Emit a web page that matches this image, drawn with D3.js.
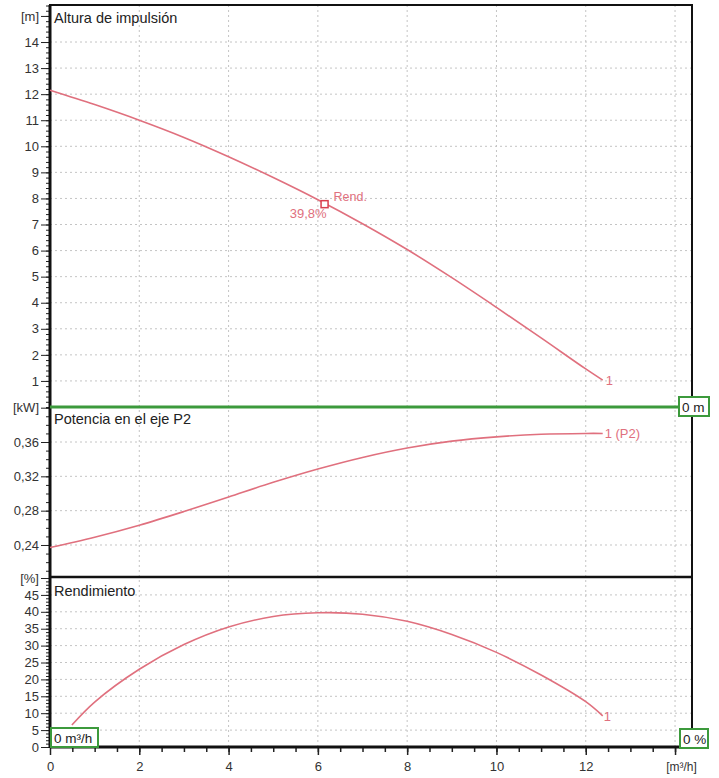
<!doctype html>
<html>
<head>
    <meta charset="UTF-8">
    <title>Curvas de bomba</title>
    <script src="https://cdn.jsdelivr.net/npm/d3@7"></script>
    <style>
        body { margin: 0; background: #fff; }
        text { font-family: "Liberation Sans", Arial, sans-serif; }
    </style>
</head>
<body>

    <div id="chart"></div>

    <script>

        var width = 719,
            height = 778;

        // curve data
        var flowH = [0, 1, 2, 3, 4, 5, 6, 7, 8, 9, 10, 11, 12, 12.38];
        var head = [12.15, 11.6, 11.0, 10.34, 9.6, 8.8, 7.95, 7.03, 6.04, 4.96, 3.82, 2.65, 1.46, 1.03];

        var flowP = [0, 1, 2, 3, 4, 5, 6, 7, 8, 9, 10, 11, 12, 12.38];
        var power = [0.237, 0.249, 0.263, 0.279, 0.296, 0.313, 0.3285, 0.342, 0.353, 0.361, 0.366, 0.369, 0.370, 0.370];

        var flowE = [0.49, 1, 2, 3, 4, 5, 6, 7, 8, 9, 10, 11, 12, 12.38];
        var eff = [6.5, 13.3, 23, 30.3, 35.5, 38.6, 39.7, 39.3, 37.2, 33.3, 28, 21.3, 13.4, 9.2];

        var rendPoint = { q: 6.15, h: 7.78, label: "39,8%" };

        var xTicks = [0, 2, 4, 6, 8, 10, 12];
        var hTicks = [1, 2, 3, 4, 5, 6, 7, 8, 9, 10, 11, 12, 13, 14];
        var pTicks = [0.24, 0.28, 0.32, 0.36];
        var eTicks = [0, 5, 10, 15, 20, 25, 30, 35, 40, 45];

        var curveColor = "#e0707e",
            green = "#3c9a3c",
            gridColor = "#c4c4c4";

        var left = 50, right = 692;

        var x = d3.scaleLinear().domain([0, 14.38]).range([left, right]);
        var yH = d3.scaleLinear().domain([0, 15.42]).range([407, 5]);
        var yP = d3.scaleLinear().domain([0.2027, 0.4008]).range([577, 407]);
        var yE = d3.scaleLinear().domain([0, 50.3]).range([747, 577]);

        var svg = d3.select("#chart")
            .append("svg")
            .attr("width", width)
            .attr("height", height);

        // vertical grid, all panels
        svg.selectAll(".vgrid")
            .data([2, 4, 6, 8, 10, 12, 14])
            .enter()
            .append("line")
            .attr("x1", function (d) { return x(d); })
            .attr("x2", function (d) { return x(d); })
            .attr("y1", 5)
            .attr("y2", 747)
            .style("stroke", gridColor)
            .style("stroke-dasharray", "2,3");

        function hGrid(scale, values) {
            svg.append("g").selectAll("line")
                .data(values)
                .enter()
                .append("line")
                .attr("x1", left)
                .attr("x2", right)
                .attr("y1", function (d) { return scale(d); })
                .attr("y2", function (d) { return scale(d); })
                .style("stroke", gridColor)
                .style("stroke-dasharray", "2,3");
        }
        hGrid(yH, hTicks);
        hGrid(yP, pTicks);
        hGrid(yE, eTicks.slice(1));

        // left axes with minor ticks
        function leftAxis(scale, major, unitVal, unit, minorStep, fmt) {
            var lo = scale.domain()[0], hi = scale.domain()[1];
            var minor = d3.range(Math.ceil(lo / minorStep) * minorStep, hi, minorStep);

            svg.append("g")
                .attr("transform", "translate(" + left + ",0)")
                .call(d3.axisLeft(scale).tickValues(minor).tickSize(4).tickFormat(""))
                .call(function (g) { g.select(".domain").remove(); })
                .selectAll("line").style("stroke", "#222");

            var g = svg.append("g")
                .attr("transform", "translate(" + left + ",0)")
                .call(d3.axisLeft(scale).tickValues(major.concat([unitVal])).tickSize(9).tickPadding(2)
                    .tickFormat(function (d) { return d === unitVal ? unit : fmt(d); }));
            g.select(".domain").remove();
            g.selectAll("line").style("stroke", "#222");
            g.selectAll("text")
                .style("font-size", "13px")
                .style("font-family", "'Liberation Sans', Arial, sans-serif")
                .attr("fill", "#333");
        }

        var comma = function (d) { return d3.format(".2f")(d).replace(".", ","); };
        leftAxis(yH, hTicks, 15, "[m]", 0.2, d3.format("d"));
        leftAxis(yP, pTicks, 0.40, "[kW]", 0.01, comma);
        leftAxis(yE, eTicks, 50, "[%]", 1, d3.format("d"));

        // bottom axis
        var minorX = d3.range(0.5, 14.3, 0.5);
        svg.append("g")
            .attr("transform", "translate(0,747)")
            .call(d3.axisBottom(x).tickValues(minorX).tickSize(5).tickFormat(""))
            .call(function (g) { g.select(".domain").remove(); })
            .selectAll("line").style("stroke", "#222").style("stroke-width", 1.5);

        var xa = svg.append("g")
            .attr("transform", "translate(0,747)")
            .call(d3.axisBottom(x).tickValues(xTicks.concat([14])).tickSize(8).tickPadding(7)
                .tickFormat(function (d) { return d === 14 ? "[m\u00b3/h]" : d; }));
        xa.select(".domain").remove();
        xa.selectAll("line").style("stroke", "#222").style("stroke-width", 1.5);
        xa.selectAll("text")
            .style("font-size", "13px")
            .style("font-family", "'Liberation Sans', Arial, sans-serif")
            .attr("fill", "#333");
        xa.selectAll(".tick").filter(function (d) { return d === 14; })
            .select("text").attr("x", 6).style("font-size", "12px");

        // frame
        svg.append("rect")
            .attr("x", left)
            .attr("y", 5)
            .attr("width", right - left)
            .attr("height", 742)
            .style("fill", "none")
            .style("stroke", "#111")
            .style("stroke-width", 2);

        svg.append("line")
            .attr("x1", left).attr("x2", left)
            .attr("y1", 5).attr("y2", 748)
            .style("stroke", "#111").style("stroke-width", 3);

        svg.append("line")
            .attr("x1", left).attr("x2", right)
            .attr("y1", 747).attr("y2", 747)
            .style("stroke", "#111").style("stroke-width", 3);

        svg.append("line")
            .attr("x1", left).attr("x2", right)
            .attr("y1", yE(50.3)).attr("y2", yE(50.3))
            .style("stroke", "#111").style("stroke-width", 2.5);

        // green zero line of the head panel
        svg.append("line")
            .attr("x1", left).attr("x2", right)
            .attr("y1", yH(0)).attr("y2", yH(0))
            .style("stroke", green).style("stroke-width", 3);

        // curves
        function curveLine(yScale) {
            return d3.line()
                .x(function (d) { return x(d[0]); })
                .y(function (d) { return yScale(d[1]); })
                .curve(d3.curveCatmullRom.alpha(0.5));
        }

        svg.append("path")
            .datum(d3.zip(flowH, head))
            .attr("d", curveLine(yH))
            .style("fill", "none").style("stroke", curveColor).style("stroke-width", 1.6);
        svg.append("path")
            .datum(d3.zip(flowP, power))
            .attr("d", curveLine(yP))
            .style("fill", "none").style("stroke", curveColor).style("stroke-width", 1.6);
        svg.append("path")
            .datum(d3.zip(flowE, eff))
            .attr("d", curveLine(yE))
            .style("fill", "none").style("stroke", curveColor).style("stroke-width", 1.6);

        // end labels
        var last = head.length - 1;
        svg.append("text")
            .text("1")
            .attr("x", x(flowH[last]) + 3)
            .attr("y", yH(head[last]) + 5)
            .attr("fill", curveColor)
            .style("font-size", "13px");
        svg.append("text")
            .text("1 (P2)")
            .attr("x", x(flowP[last]) + 2)
            .attr("y", yP(power[last]) + 5)
            .attr("fill", curveColor)
            .style("font-size", "13px");
        svg.append("text")
            .text("1")
            .attr("x", x(flowE[last]) + 1)
            .attr("y", yE(eff[last]) + 5)
            .attr("fill", curveColor)
            .style("font-size", "13px");

        // best efficiency marker
        svg.append("rect")
            .attr("x", x(rendPoint.q) - 3.5)
            .attr("y", yH(rendPoint.h) - 3.5)
            .attr("width", 7)
            .attr("height", 7)
            .style("fill", "#fff")
            .style("stroke", "#d9404f")
            .style("stroke-width", 1.5);
        svg.append("text")
            .text("Rend.")
            .attr("x", x(rendPoint.q) + 9)
            .attr("y", yH(rendPoint.h) - 3)
            .attr("fill", curveColor)
            .style("font-size", "12.5px");
        svg.append("text")
            .text(rendPoint.label)
            .attr("x", x(rendPoint.q) + 2)
            .attr("y", yH(rendPoint.h) + 14)
            .attr("fill", curveColor)
            .style("text-anchor", "end")
            .style("font-size", "13px");

        // panel titles
        var titles = [["Altura de impulsi\u00f3n", 23], ["Potencia en el eje P2", 424], ["Rendimiento", 596]];
        svg.selectAll(".title")
            .data(titles)
            .enter()
            .append("text")
            .attr("class", "title")
            .text(function (d) { return d[0]; })
            .attr("x", left + 4)
            .attr("y", function (d) { return d[1]; })
            .attr("fill", "#222")
            .style("font-size", "14.5px");

        // green value boxes
        function valueBox(bx, by, bw, label) {
            svg.append("rect")
                .attr("x", bx).attr("y", by)
                .attr("width", bw).attr("height", 19)
                .style("fill", "#fff")
                .style("stroke", green)
                .style("stroke-width", 2);
            svg.append("text")
                .text(label)
                .attr("x", bx + 3)
                .attr("y", by + 14.5)
                .attr("fill", "#222")
                .style("font-size", "13.5px");
        }
        valueBox(679, 397, 30, "0 m");
        valueBox(51, 728, 47, "0 m\u00b3/h");
        valueBox(680, 729, 28, "0 %");

    </script>

</body>
</html>
